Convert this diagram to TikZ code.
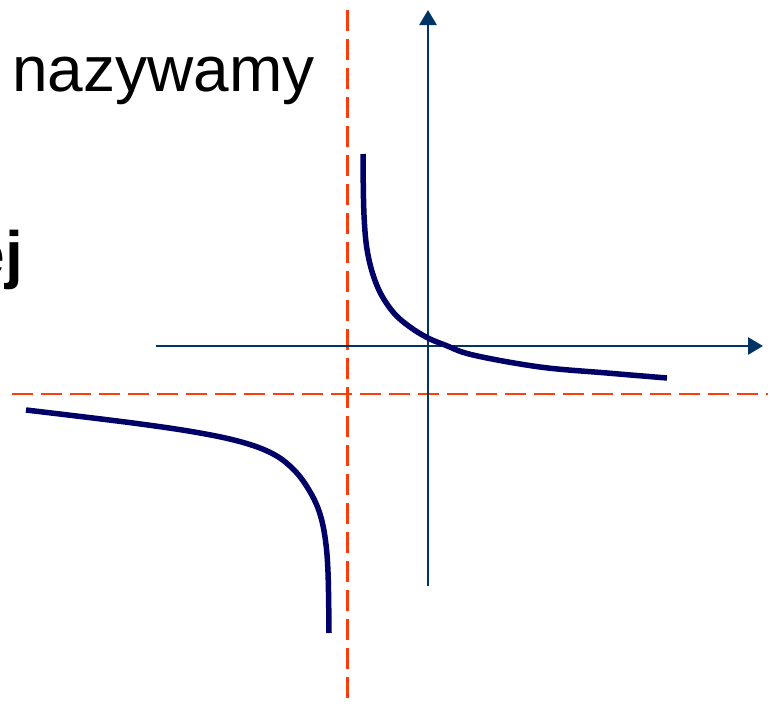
\documentclass[tikz,border=0pt]{standalone}
\usepackage{fontspec}
\setmainfont{Liberation Sans}
\usetikzlibrary{arrows.meta}
\definecolor{axisblue}{RGB}{0,51,102}
\definecolor{curvenavy}{RGB}{0,0,102}
\definecolor{asymred}{RGB}{255,60,10}
\tikzset{
  axisline/.style={draw=axisblue,line width=2.8pt},
  axisarrow/.style={axisline,-{Triangle[length=15pt,width=17pt]}},
  asym/.style={draw=asymred,line width=2.8pt,dash pattern=on 21pt off 8pt},
  branch/.style={draw=curvenavy,line width=5.5pt,smooth,tension=0.6},
  txt/.style={inner sep=0pt,font=\fontsize{64}{70}\selectfont}
}
\begin{document}
\begin{tikzpicture}[x=1pt,y=-1pt]
\useasboundingbox (0,0) rectangle (772,704);
% text
\node[txt,anchor=base west] (t1) at (12,91) {nazywamy};
\node[txt,anchor=base east,font=\fontsize{64}{70}\selectfont\bfseries] (t2) at (23,276) {ej};
% asymptotes
\draw[asym] (347.5,10) -- (347.5,704);
\draw[asym] (12,394) -- (768,394);
% axes
\coordinate (yb) at (428,586);
\coordinate (yt) at (428,10);
\coordinate (xl) at (156,346);
\coordinate (xr) at (763,346);
\draw[axisarrow] (yb) -- (yt);
\draw[axisarrow] (xl) -- (xr);
% hyperbola branches
\draw[branch] plot coordinates {(363,154) (364,215) (368,255) (378,288) (393,312) (410,327) (428,338) (445,345) (473,355) (540,367) (607,373) (667,378)};
\draw[branch] plot coordinates {(26,410) (133,423) (200,433) (245,443) (275,455) (295,471) (309,490) (319,511) (325,537) (328,572) (329,633)};
\end{tikzpicture}
\end{document}
